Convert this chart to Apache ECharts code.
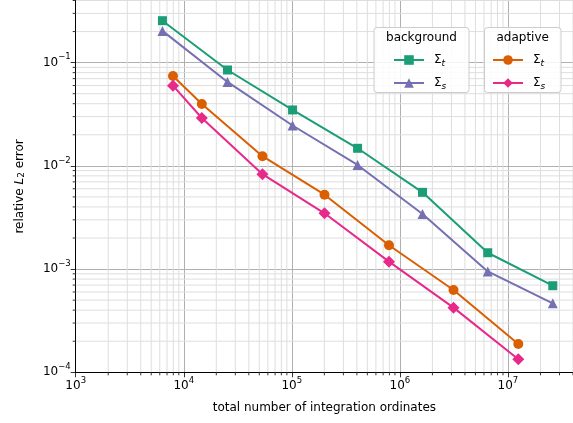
<!DOCTYPE html>
<html>
<head>
<meta charset="utf-8">
<script src="https://cdn.jsdelivr.net/npm/echarts@6/dist/echarts.min.js"></script>
<style>
  html, body { margin: 0; padding: 0; background: #fff; }
  #chart { width: 573px; height: 423px; }
</style>
</head>
<body>
<div id="chart"></div>
<script>
// Convergence of the relative L2 error against the number of integration ordinates
const xBackground = [6350, 25400, 101600, 406000, 1.62e6, 6.5e6, 2.6e7];
const bgSigmaT = [0.255, 0.0849, 0.0348, 0.0148, 0.00554, 0.00144, 0.00069];
const bgSigmaS = [0.203, 0.065, 0.0246, 0.0102, 0.00342, 0.00095, 0.000466];

const xAdaptive = [7950, 14700, 53500, 200700, 793000, 3.135e6, 1.247e7];
const adSigmaT = [0.0743, 0.0398, 0.0124, 0.00526, 0.0017, 0.000627, 0.000188];
const adSigmaS = [0.0598, 0.0291, 0.0083, 0.00347, 0.00118, 0.000423, 0.000134];

const xRange = [1e3, 4e7];
const yRange = [1e-4, 0.4];

const FONT = 'DejaVu Sans';
const colors = { green: '#1b9e77', orange: '#d95f02', purple: '#7570b3', pink: '#e7298a' };

// minor (2..9 x 10^k) positions for grid lines and small ticks
function minorValues(lo, hi) {
  const out = [];
  for (let e = Math.floor(Math.log10(lo)); e <= Math.ceil(Math.log10(hi)); e++) {
    for (let m = 2; m <= 9; m++) {
      const v = m * Math.pow(10, e);
      if (v > lo && v <= hi * 1.0001) out.push(v);
    }
  }
  return out;
}
const xMinor = minorValues(xRange[0], xRange[1]);
const yMinor = minorValues(yRange[0], yRange[1]);

function zip(xs, ys) { return xs.map((x, i) => [x, ys[i]]); }

function powLabel(v) {
  const e = Math.log10(v);
  if (Math.abs(e - Math.round(e)) > 1e-6) return '';
  const n = Math.round(e);
  return '{b|10}{e|' + (n < 0 ? '\u2212' + (-n) : n) + '}';
}
const powRich = {
  b: { fontFamily: FONT, fontSize: 12, color: '#000', lineHeight: 20 },
  e: { fontFamily: FONT, fontSize: 8.5, color: '#000', verticalAlign: 'top', lineHeight: 10 }
};

function lineSeries(name, xs, ys, color, symbol, size) {
  return {
    name: name, type: 'line', data: zip(xs, ys),
    symbol: symbol, symbolSize: size,
    lineStyle: { color: color, width: 2 },
    itemStyle: { color: color },
    z: 5, animation: false
  };
}

// minor grid lines and minor ticks drawn in data coordinates
const minorSeries = {
  type: 'custom', silent: true, z: 1, animation: false,
  clip: false,
  data: [0],
  renderItem: function (params, api) {
    const children = [];
    const y0 = api.coord([xRange[0], yRange[0]]);
    const y1 = api.coord([xRange[0], yRange[1]]);
    const x1 = api.coord([xRange[1], yRange[0]]);
    xMinor.forEach(v => {
      const p = api.coord([v, yRange[0]]);
      children.push({ type: 'line', shape: { x1: p[0], y1: y0[1], x2: p[0], y2: y1[1] },
        style: { stroke: '#dedede', lineWidth: 1 } });
      children.push({ type: 'line', shape: { x1: p[0], y1: y0[1], x2: p[0], y2: y0[1] + 3 },
        style: { stroke: '#000', lineWidth: 0.8 } });
    });
    yMinor.forEach(v => {
      const p = api.coord([xRange[0], v]);
      children.push({ type: 'line', shape: { x1: y0[0], y1: p[1], x2: x1[0], y2: p[1] },
        style: { stroke: '#dedede', lineWidth: 1 } });
      children.push({ type: 'line', shape: { x1: y0[0] - 3, y1: p[1], x2: y0[0], y2: p[1] },
        style: { stroke: '#000', lineWidth: 0.8 } });
    });
    return { type: 'group', children: children };
  }
};

function legendLabel(name) {
  return '{s|\u03A3}{sub|' + (name.slice(-1)) + '}';
}
const legendRich = {
  s: { fontFamily: FONT, fontSize: 12, color: '#000', padding: [0, 0, 0, 5], lineHeight: 16 },
  sub: { fontFamily: FONT, fontSize: 9, fontStyle: 'italic', color: '#000', verticalAlign: 'bottom', lineHeight: 10 }
};

const legendCommon = {
  orient: 'vertical', top: 54, itemWidth: 30, itemHeight: 12, itemGap: 9,
  padding: 0, z: 20, formatter: legendLabel, selectedMode: false,
  textStyle: { rich: legendRich }
};

const chart = echarts.init(document.getElementById('chart'), null, { renderer: 'canvas' });
chart.setOption({
  animation: false,
  backgroundColor: '#fff',
  grid: { left: 75.7, top: 0.5, right: -1.5, bottom: 50.7, containLabel: false },
  xAxis: {
    type: 'log', logBase: 10, min: xRange[0], max: xRange[1],
    name: 'total number of integration ordinates',
    nameLocation: 'middle', nameGap: 30,
    nameTextStyle: { fontFamily: FONT, fontSize: 12, color: '#000' },
    axisLine: { show: true, onZero: false, lineStyle: { color: '#000', width: 1 } },
    axisTick: { show: true, inside: false, length: 5, lineStyle: { color: '#000', width: 0.8 } },
    axisLabel: { formatter: powLabel, rich: powRich, margin: 4, showMaxLabel: false },
    splitLine: { show: true, lineStyle: { color: '#b0b0b0', width: 1 } }
  },
  yAxis: {
    type: 'log', logBase: 10, min: yRange[0], max: yRange[1],
    name: 'relative {i|L}{sub|2} error',
    nameLocation: 'middle', nameGap: 50, nameRotate: 90,
    nameTextStyle: {
      fontFamily: FONT, fontSize: 12, color: '#000',
      rich: {
        i: { fontFamily: FONT, fontSize: 12, fontStyle: 'italic', color: '#000' },
        sub: { fontFamily: FONT, fontSize: 9, color: '#000', verticalAlign: 'bottom', lineHeight: 10 }
      }
    },
    axisLine: { show: true, onZero: false, lineStyle: { color: '#000', width: 1 } },
    axisTick: { show: true, inside: false, length: 5, lineStyle: { color: '#000', width: 0.8 } },
    axisLabel: { formatter: powLabel, rich: powRich, margin: 5, showMaxLabel: false },
    splitLine: { show: true, lineStyle: { color: '#b0b0b0', width: 1 } }
  },
  graphic: {
    elements: [
      { type: 'line', z: 1, shape: { x1: 75.7, y1: 0.5, x2: 573, y2: 0.5 }, style: { stroke: '#000', lineWidth: 1 } },
      { type: 'rect', z: 10, shape: { x: 374, y: 27.5, width: 95, height: 65, r: 3 },
        style: { fill: 'rgba(255,255,255,0.85)', stroke: '#cccccc', lineWidth: 1 } },
      { type: 'text', z: 11, x: 421.5, y: 38,
        style: { text: 'background', fontFamily: FONT, fontSize: 12, fill: '#000', align: 'center', verticalAlign: 'middle' } },
      { type: 'rect', z: 10, shape: { x: 484.5, y: 27.5, width: 76.5, height: 65, r: 3 },
        style: { fill: 'rgba(255,255,255,0.85)', stroke: '#cccccc', lineWidth: 1 } },
      { type: 'text', z: 11, x: 522.7, y: 38,
        style: { text: 'adaptive', fontFamily: FONT, fontSize: 12, fill: '#000', align: 'center', verticalAlign: 'middle' } }
    ]
  },
  legend: [
    Object.assign({ data: ['background \u03A3 t', 'background \u03A3 s'], left: 393 }, legendCommon),
    Object.assign({ data: ['adaptive \u03A3 t', 'adaptive \u03A3 s'], left: 492 }, legendCommon)
  ],
  series: [
    minorSeries,
    lineSeries('background \u03A3 t', xBackground, bgSigmaT, colors.green, 'rect', 9),
    lineSeries('background \u03A3 s', xBackground, bgSigmaS, colors.purple, 'triangle', 10),
    lineSeries('adaptive \u03A3 t', xAdaptive, adSigmaT, colors.orange, 'circle', 10),
    lineSeries('adaptive \u03A3 s', xAdaptive, adSigmaS, colors.pink, 'diamond', 12)
  ]
});
</script>
</body>
</html>
